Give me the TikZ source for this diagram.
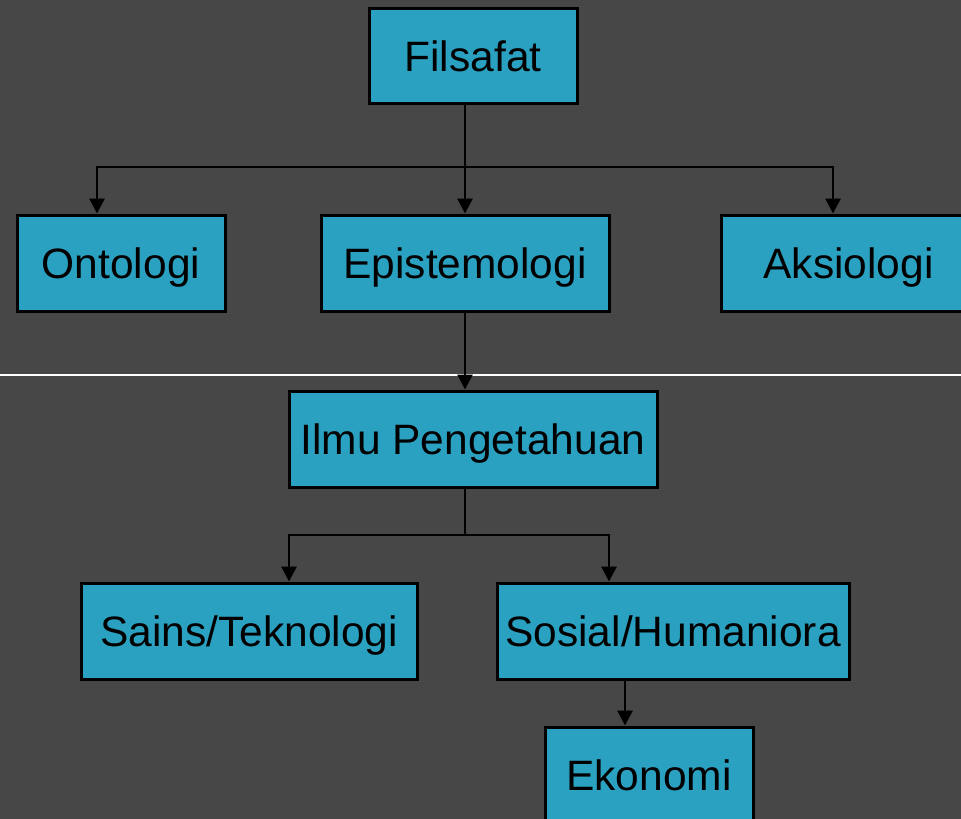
\documentclass[tikz,border=0pt]{standalone}
\usepackage{fontspec}
\setmainfont{Liberation Sans}
\usetikzlibrary{arrows.meta}
\definecolor{bgc}{HTML}{474747}
\definecolor{boxc}{HTML}{2AA1C0}
\begin{document}
\begin{tikzpicture}[x=1pt,y=-1pt,
  box/.style={draw=black,line width=3pt,fill=boxc,inner sep=0pt,
    minimum height=96pt,text height=31pt,text depth=0pt,font=\fontsize{42.5}{50}\selectfont},
  conn/.style={draw=black,line width=2.8pt},
  arr/.style={conn,-{Triangle[width=15pt,length=15pt]}}]
\useasboundingbox (0,0) rectangle (961,819);
\clip (0,0) rectangle (961,819);
\fill[bgc] (0,0) rectangle (961,819);
\coordinate (wl) at (0,375);
\coordinate (wr) at (961,375);
\draw[white,line width=1.5pt] (wl) -- (wr);
\node[box,minimum width=208pt,minimum height=95pt] (fil) at (473,55.5) {Filsafat};
\node[box,minimum width=208pt] (ont) at (121,263) {Ontologi};
\node[box,minimum width=288pt] (epi) at (465,263) {Epistemologi};
\node[box,minimum width=255pt] (aks) at (848.5,263) {Aksiologi};
\node[box,minimum width=368pt] (ilm) at (473,439) {Ilmu Pengetahuan};
\node[box,minimum width=336pt] (sai) at (249,631) {Sains/Teknologi};
\node[box,minimum width=352pt] (sos) at (673,631) {Sosial/Humaniora};
\node[box,minimum width=208pt] (eko) at (649,775) {Ekonomi};
\coordinate (j1) at (465,167);
\coordinate (j2) at (465,535);
\draw[conn] (fil.south -| j1) -- (j1);
\draw[arr] (j1) -| (ont.north -| 97,0);
\draw[arr] (j1) -- (epi.north -| j1);
\draw[arr] (j1) -| (aks.north -| 833,0);
\draw[arr] (epi.south -| j1) -- (ilm.north -| j1);
\draw[conn] (ilm.south -| j2) -- (j2);
\draw[arr] (j2) -| (sai.north -| 289,0);
\draw[arr] (j2) -| (sos.north -| 609,0);
\draw[arr] (sos.south -| 625,0) -- (eko.north -| 625,0);
\end{tikzpicture}
\end{document}
